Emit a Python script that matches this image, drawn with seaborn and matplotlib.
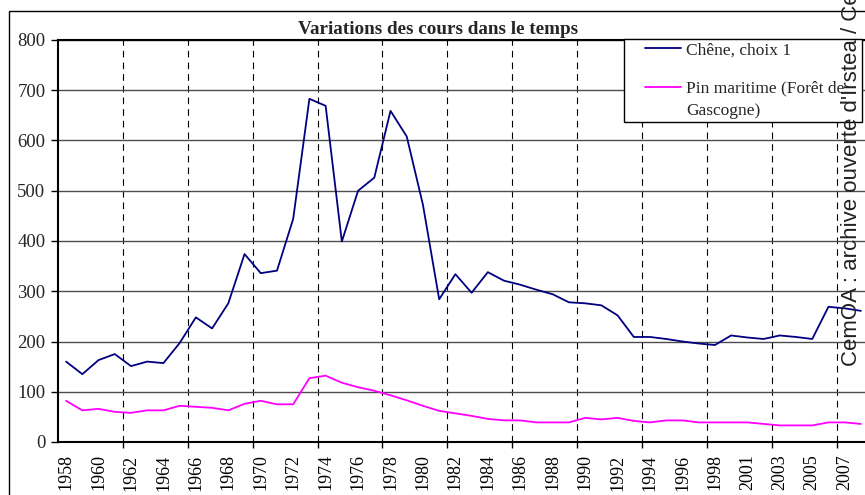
import matplotlib
matplotlib.use("Agg")
import matplotlib.pyplot as plt
from matplotlib.lines import Line2D
from matplotlib.patches import Rectangle
import seaborn as sns
import pandas as pd
import numpy as np

# categories (one year is missing between 1999 and 2001 in the source)
years = list(range(1958, 2000)) + list(range(2001, 2009))

chene = [160, 135, 163, 175, 151, 160, 157, 197, 248, 226,
         276, 374, 336, 341, 444, 683, 669, 399, 500, 526,
         659, 608, 472, 284, 334, 297, 338, 321, 313, 303,
         294, 278, 276, 272, 252, 209, 209, 205, 200, 196,
         193, 212, 208, 205, 212, 209, 205, 269, 266, 261]

pin = [82, 63, 66, 60, 58, 63, 63, 72, 70, 68,
       63, 76, 82, 75, 75, 127, 132, 118, 109, 102,
       93, 83, 72, 62, 57, 52, 46, 43, 43, 39,
       39, 39, 48, 45, 48, 42, 39, 43, 43, 39,
       39, 39, 39, 36, 33, 33, 33, 39, 39, 36]

series_names = ["Chêne, choix 1", "Pin maritime (Forêt de Gascogne)"]
series_colors = ["#000080", "#FF00FF"]
tick_labels = [str(y) for y in years[::2]]

sns.set_style("white")
plt.rcParams["font.family"] = ["Liberation Serif", "DejaVu Serif"]

df = pd.DataFrame({
    "pos": list(range(len(years))) * 2,
    "cours": chene + pin,
    "serie": [series_names[0]] * len(years) + [series_names[1]] * len(years),
})

fig = plt.figure(figsize=(8.65, 4.95), dpi=100)
ax = fig.add_axes([58 / 865, 53 / 495, 811 / 865, 402 / 495])

sns.lineplot(data=df, x="pos", y="cours", hue="serie", palette=series_colors,
             linewidth=1.3, legend=False, ax=ax, zorder=3)

ax.set_xlim(-0.5, len(years) - 0.5)
ax.set_ylim(0, 800)
ax.set_yticks(np.arange(0, 801, 100))
ax.set_xticks(np.arange(0, len(years), 2))
ax.set_xticklabels(tick_labels, rotation=90)
ax.set_xticks(np.arange(3.5, len(years) - 1, 4), minor=True)
ax.set_xlabel("")
ax.set_ylabel("")

ax.tick_params(axis="x", which="major", length=0, pad=9, labelsize=13, colors="black")
ax.tick_params(axis="x", which="minor", length=4, width=1, direction="out", color="black", bottom=True)
ax.tick_params(axis="y", length=5, width=1, direction="out", color="black", left=True, pad=4, labelsize=13.5)

ax.set_axisbelow(True)
ax.grid(axis="y", which="major", color="#4d4d4d", linewidth=1)
ax.grid(axis="x", which="minor", color="black", linewidth=0.8, linestyle=(0, (6, 4.5)))
ax.grid(axis="x", which="major", visible=False)

for side in ["left", "bottom", "top"]:
    ax.spines[side].set_color("black")
    ax.spines[side].set_linewidth(1.5)
ax.spines["right"].set_visible(False)

# chart area frame
fig.patches.append(Rectangle((9 / 865, -0.05), 1.0, (495 - 11) / 495 + 0.05,
                             transform=fig.transFigure, fill=False, ec="black", lw=1))

fig.text(438 / 865, 1 - 29 / 495, "Variations des cours dans le temps",
         ha="center", va="center", fontsize=13.8, fontweight="bold")

# legend box, second label wraps onto a second line like in Excel
fig.patches.append(Rectangle((624 / 865, 1 - 122 / 495), (862 - 624) / 865, 83 / 495,
                             transform=fig.transFigure, fc="white", ec="black", lw=1, zorder=4))
handles = [Line2D([], [], color=c, lw=1.3) for c in series_colors]
leg = fig.legend(handles, ["Chêne, choix 1", "Pin maritime (Forêt de"], loc="upper left",
                 bbox_to_anchor=(645 / 865, 1 - 42 / 495), frameon=False,
                 borderpad=0, borderaxespad=0, fontsize=12.5, handlelength=2.05,
                 handletextpad=0.3, labelspacing=1.3)
fig.canvas.draw()
bb = leg.get_texts()[1].get_window_extent()
fig.text(bb.x0 / 865, (bb.y0 - 22) / 495, "Gascogne)", fontsize=12.5,
         ha="left", va="bottom", zorder=6)

fig.text(852 / 865, (495 - 366) / 495, "CemOA : archive ouverte d'Irstea / Cemagref",
         rotation=90, ha="center", va="bottom", fontsize=16,
         family=["Liberation Sans", "DejaVu Sans"], color="#222222", zorder=6)

fig.savefig("out.png", dpi=100)
